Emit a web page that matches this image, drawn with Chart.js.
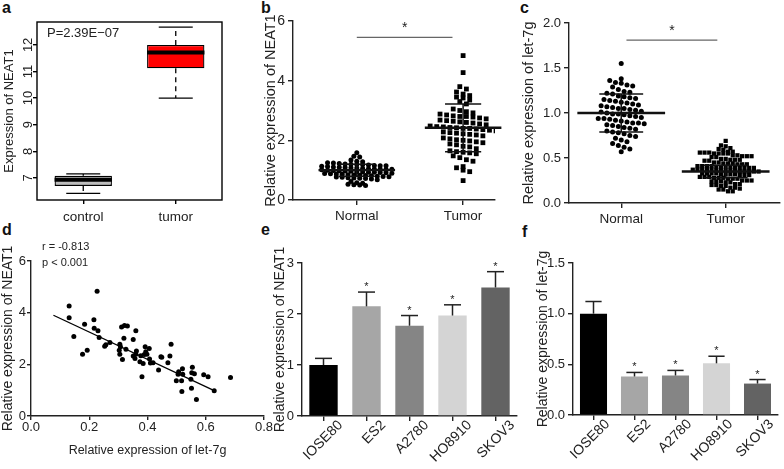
<!DOCTYPE html>
<html>
<head>
<meta charset="utf-8">
<script src="https://cdn.jsdelivr.net/npm/chart.js@4.4.0/dist/chart.umd.min.js"></script>
<style>
  body { margin: 0; width: 784px; height: 469px; background: #fff; position: relative; overflow: hidden;
         font-family: "Liberation Sans", Arial, sans-serif; }
  canvas { position: absolute; }
  .tag { position: absolute; font-weight: bold; font-size: 16px; line-height: 1; color: #111; }
</style>
</head>
<body>
<div class="tag" style="left:2px;top:0px">a</div>
<div class="tag" style="left:261px;top:0px">b</div>
<div class="tag" style="left:520px;top:0px">c</div>
<div class="tag" style="left:2px;top:222px">d</div>
<div class="tag" style="left:261px;top:222px">e</div>
<div class="tag" style="left:522px;top:224px">f</div>

<canvas id="chartA" width="262" height="230" style="left:0;top:0"></canvas>
<canvas id="chartB" width="258" height="230" style="left:262px;top:0"></canvas>
<canvas id="chartC" width="264" height="230" style="left:520px;top:0"></canvas>
<canvas id="chartD" width="280" height="239" style="left:0;top:230px"></canvas>
<canvas id="chartE" width="260" height="239" style="left:262px;top:230px"></canvas>
<canvas id="chartF" width="262" height="239" style="left:522px;top:230px"></canvas>

<script>
// ---- data ----

// a: NEAT1 expression boxplot (control vs tumor)
const groupsA = ["control", "tumor"];
const lowA = [6.42, 10.0];
const q1A = [6.70, 11.12];
const medA = [6.93, 11.71];
const q3A = [7.08, 12.0];
const highA = [7.15, 12.67];
const ticksA = [7, 8, 9, 10, 11, 12];

// b: NEAT1 in normal / tumor tissue
const groupsB = ["Normal", "Tumor"];
const normalB = [
  1.58, 1.47, 1.44, 1.34, 1.30, 1.28,
  1.25, 1.24, 1.22, 1.21, 1.20, 1.19, 1.18, 1.17, 1.16, 1.15, 1.15,
  1.13, 1.12, 1.11, 1.10, 1.09, 1.08, 1.07, 1.06, 1.05, 1.04, 1.04, 1.03, 1.03,
  1.01, 1.00, 0.99, 0.98, 0.97, 0.96, 0.95, 0.94, 0.93, 0.93, 0.92, 0.91, 0.90,
  0.89, 0.88, 0.87, 0.86, 0.85, 0.84, 0.83, 0.82, 0.81, 0.80, 0.79, 0.78,
  0.77, 0.76, 0.75, 0.74, 0.73, 0.72, 0.70, 0.68,
  0.62, 0.58, 0.56, 0.53, 0.51, 0.50, 0.49
];
const tumorB = [
  4.84, 4.27, 3.80, 3.72, 3.62, 3.55, 3.50, 3.45, 3.42, 3.35, 3.30, 3.22,
  3.05, 3.00, 2.96, 2.92,
  2.88, 2.85, 2.82, 2.80, 2.80, 2.78, 2.75, 2.72,
  2.68, 2.66, 2.64, 2.62, 2.60, 2.58, 2.55, 2.52,
  2.48, 2.46, 2.45, 2.43, 2.42, 2.40, 2.40, 2.38, 2.36, 2.34, 2.32,
  2.28, 2.26, 2.24, 2.22, 2.20, 2.18, 2.15,
  2.08, 2.05, 2.02, 2.00, 1.98, 1.95, 1.92,
  1.88, 1.85, 1.80, 1.78, 1.72,
  1.65, 1.62, 1.60, 1.58, 1.55,
  1.48, 1.42, 1.35, 1.30, 1.12, 1.08, 1.00, 0.95, 0.65
];
const meanB = [1.0, 2.42];
const sdB = [0.2, 0.8];

// c: let-7g in normal / tumor tissue
const groupsC = ["Normal", "Tumor"];
const normalC = [
  1.55, 1.38, 1.36, 1.34, 1.33, 1.31, 1.30, 1.29, 1.26, 1.24, 1.23,
  1.22, 1.21, 1.19, 1.18, 1.17, 1.16, 1.15, 1.14, 1.13,
  1.12, 1.11, 1.10, 1.09, 1.08, 1.07, 1.06, 1.05, 1.05, 1.04, 1.03,
  1.02, 1.01, 1.00, 0.99, 0.99, 0.98, 0.97, 0.96, 0.95, 0.94, 0.94, 0.93,
  0.92, 0.91, 0.90, 0.89, 0.89, 0.88, 0.87, 0.86, 0.85, 0.84, 0.83,
  0.82, 0.80, 0.79, 0.78, 0.77, 0.75, 0.74, 0.72, 0.70, 0.68,
  0.66, 0.64, 0.62, 0.60, 0.57
];
const tumorC = [
  0.69, 0.64, 0.63, 0.61, 0.60, 0.59,
  0.57, 0.57, 0.56, 0.56, 0.56, 0.55, 0.55, 0.55, 0.55,
  0.53, 0.53, 0.52, 0.52, 0.52, 0.51, 0.51,
  0.49, 0.49, 0.48, 0.48, 0.48, 0.47, 0.47,
  0.45, 0.45, 0.44, 0.44, 0.44, 0.43, 0.43, 0.43,
  0.41, 0.41, 0.41, 0.41, 0.40, 0.40, 0.40, 0.40, 0.40, 0.39, 0.39, 0.39, 0.39,
  0.37, 0.37, 0.37, 0.37, 0.37, 0.36, 0.36, 0.36, 0.36, 0.36, 0.35, 0.35, 0.35, 0.35, 0.35,
  0.33, 0.33, 0.33, 0.33, 0.32, 0.32, 0.32, 0.32, 0.31, 0.31, 0.31,
  0.29, 0.29, 0.29, 0.28, 0.28, 0.28, 0.27, 0.27, 0.27,
  0.25, 0.25, 0.25, 0.24, 0.24, 0.24, 0.23, 0.23,
  0.21, 0.21, 0.20, 0.20, 0.19, 0.19,
  0.17, 0.17, 0.16, 0.15, 0.15, 0.13, 0.13
];
const meanC = [1.0, 0.35];
const sdC = [0.21, 0.07];

// d: let-7g vs NEAT1 correlation
const let7gD = [0.131, 0.131, 0.147, 0.227, 0.184, 0.216, 0.217, 0.230, 0.234, 0.177, 0.193,
  0.253, 0.257, 0.271, 0.305, 0.307, 0.303, 0.305, 0.314, 0.311, 0.321, 0.331, 0.319, 0.326,
  0.351, 0.360, 0.362, 0.351, 0.357, 0.360, 0.377, 0.374, 0.381, 0.385, 0.389, 0.392, 0.394,
  0.398, 0.406, 0.407, 0.410, 0.419, 0.438, 0.446, 0.449, 0.470, 0.477, 0.481, 0.499, 0.505,
  0.507, 0.517, 0.518, 0.520, 0.521, 0.549, 0.551, 0.554, 0.552, 0.561, 0.568, 0.593, 0.608,
  0.685, 0.629];
const neat1D = [4.26, 3.80, 3.08, 4.83, 3.55, 3.73, 3.40, 3.30, 3.04, 2.39, 2.55,
  2.70, 2.76, 2.85, 2.78, 2.68, 2.55, 2.39, 2.19, 3.45, 3.50, 3.48, 3.01, 2.58,
  2.96, 3.30, 2.52, 2.32, 2.23, 2.39, 2.33, 2.10, 1.52, 2.03, 2.38, 2.68, 2.49,
  2.39, 2.61, 2.21, 2.05, 2.06, 1.78, 2.29, 2.27, 2.06, 2.32, 2.78, 1.36, 1.62,
  1.71, 1.36, 0.95, 1.83, 1.62, 1.42, 1.07, 1.89, 1.67, 1.64, 0.64, 1.60, 1.52,
  1.49, 0.98];
const fitX = [0.077, 0.629];
const fitY = [3.90, 0.98];

// e / f: cell lines
const cellLines = ["IOSE80", "ES2", "A2780", "HO8910", "SKOV3"];
const neatE = [1.0, 2.15, 1.77, 1.97, 2.52];
const neatErrE = [0.13, 0.28, 0.20, 0.21, 0.31];
const let7gF = [1.0, 0.38, 0.39, 0.51, 0.31];
const let7gErrF = [0.12, 0.04, 0.05, 0.07, 0.04];
const starred = [false, true, true, true, true];
const barColors = ["#000000", "#a6a6a6", "#858585", "#d4d4d4", "#636363"];

// ---- helpers ----
const FONT = '"Liberation Sans", Arial, sans-serif';
const INK = "#222";
Chart.defaults.font.family = FONT;
Chart.defaults.color = INK;
Chart.defaults.animation = false;
Chart.defaults.plugins.legend.display = false;
Chart.defaults.plugins.tooltip.enabled = false;

function fixY(w) { return s => { s.width = w; s.paddingTop = 0; s.paddingBottom = 0; }; }
function fixX(h) { return s => { s.height = h; s.paddingLeft = 0; s.paddingRight = 0; }; }

function axis(size, opts) {
  const base = {
    border: { color: INK, width: 1.4 },
    grid: { drawOnChartArea: false, drawTicks: true, tickLength: 5, color: INK, lineWidth: 1.4 },
    ticks: { font: { size: size }, color: INK, padding: 3 }
  };
  return Object.assign({}, base, opts, {
    grid: Object.assign({}, base.grid, opts.grid || {}),
    ticks: Object.assign({}, base.ticks, opts.ticks || {})
  });
}

function yTitle(text, size, pad) {
  return { display: true, text: text, font: { size: size }, color: INK, padding: { top: pad, bottom: 0 } };
}

// spread points of one group into horizontal rows (dot plot layout)
function swarm(values, center, rowSize, spacing) {
  const rows = new Map();
  values.forEach(v => {
    const k = Math.round(v / rowSize);
    if (!rows.has(k)) rows.set(k, []);
    rows.get(k).push(v);
  });
  const pts = [];
  rows.forEach(row => {
    row.forEach((v, i) => pts.push({ x: center + (i - (row.length - 1) / 2) * spacing, y: v }));
  });
  return pts;
}

function line(ctx, x1, y1, x2, y2) {
  ctx.beginPath(); ctx.moveTo(x1, y1); ctx.lineTo(x2, y2); ctx.stroke();
}

// mean +- SD lines and significance bar for dot plots
function dotStats(means, sds, meanHalf, sdHalf, sig) {
  return {
    id: "dotStats",
    afterDatasetsDraw(chart) {
      const { ctx, scales: { x, y } } = chart;
      ctx.save();
      ctx.strokeStyle = "#111";
      means.forEach((m, i) => {
        ctx.lineWidth = 2.4;
        line(ctx, x.getPixelForValue(i - meanHalf), y.getPixelForValue(m), x.getPixelForValue(i + meanHalf), y.getPixelForValue(m));
        ctx.lineWidth = 1.5;
        [m - sds[i], m + sds[i]].forEach(v => {
          line(ctx, x.getPixelForValue(i - sdHalf), y.getPixelForValue(v), x.getPixelForValue(i + sdHalf), y.getPixelForValue(v));
        });
        line(ctx, x.getPixelForValue(i), y.getPixelForValue(m - sds[i]), x.getPixelForValue(i), y.getPixelForValue(m + sds[i]));
      });
      ctx.strokeStyle = "#666";
      ctx.lineWidth = 1.2;
      const ly = y.getPixelForValue(sig.level);
      line(ctx, x.getPixelForValue(sig.from), ly, x.getPixelForValue(sig.to), ly);
      ctx.fillStyle = INK;
      ctx.font = "14px " + FONT;
      ctx.textAlign = "center";
      ctx.fillText("*", x.getPixelForValue((sig.from + sig.to) / 2), ly - 5);
      ctx.restore();
    }
  };
}

function errorBars(errs, stars) {
  return {
    id: "errorBars",
    afterDatasetsDraw(chart) {
      const { ctx, scales: { y } } = chart;
      const meta = chart.getDatasetMeta(0);
      const vals = chart.data.datasets[0].data;
      ctx.save();
      ctx.lineWidth = 1.5;
      ctx.strokeStyle = INK;
      ctx.fillStyle = INK;
      ctx.font = "11px " + FONT;
      ctx.textAlign = "center";
      meta.data.forEach((bar, i) => {
        const top = y.getPixelForValue(vals[i] + errs[i]);
        const half = bar.width * 0.3;
        line(ctx, bar.x, bar.y, bar.x, top);
        line(ctx, bar.x - half, top, bar.x + half, top);
        if (stars[i]) ctx.fillText("*", bar.x, top - 2);
      });
      ctx.restore();
    }
  };
}

// 45 degree category labels, ending a little right of each tick
function slantedLabels(shift, drop) {
  return {
    id: "slantedLabels",
    afterDraw(chart) {
      const { ctx, chartArea: ca, scales: { x } } = chart;
      ctx.save();
      ctx.fillStyle = INK;
      ctx.font = "14px " + FONT;
      ctx.textAlign = "right";
      ctx.textBaseline = "middle";
      chart.data.labels.forEach((name, i) => {
        ctx.save();
        ctx.translate(x.getPixelForValue(i) + shift, ca.bottom + drop);
        ctx.rotate(-Math.PI / 4);
        ctx.fillText(name, 0, 0);
        ctx.restore();
      });
      ctx.restore();
    }
  };
}

// ---- a: boxplot ----
const boxExtras = {
  id: "boxExtras",
  afterDatasetsDraw(chart) {
    const { ctx, chartArea: ca, scales: { x, y } } = chart;
    const meta = chart.getDatasetMeta(0);
    ctx.save();
    ctx.strokeStyle = "#000";
    groupsA.forEach((g, i) => {
      const bar = meta.data[i];
      const cx = bar.x;
      const capHalf = 17;
      ctx.lineWidth = 1.3;
      ctx.setLineDash([5, 4]);
      line(ctx, cx, y.getPixelForValue(q1A[i]), cx, y.getPixelForValue(lowA[i]));
      line(ctx, cx, y.getPixelForValue(q3A[i]), cx, y.getPixelForValue(highA[i]));
      ctx.setLineDash([]);
      line(ctx, cx - capHalf, y.getPixelForValue(lowA[i]), cx + capHalf, y.getPixelForValue(lowA[i]));
      line(ctx, cx - capHalf, y.getPixelForValue(highA[i]), cx + capHalf, y.getPixelForValue(highA[i]));
      ctx.lineWidth = 4;
      line(ctx, cx - bar.width / 2, y.getPixelForValue(medA[i]), cx + bar.width / 2, y.getPixelForValue(medA[i]));
    });
    ctx.lineWidth = 1.4;
    ctx.strokeRect(ca.left, ca.top, ca.width, ca.height);
    // R style vertical tick labels
    ctx.fillStyle = INK;
    ctx.font = "13px " + FONT;
    ctx.textAlign = "center";
    ctx.textBaseline = "middle";
    ticksA.forEach(v => {
      ctx.save();
      ctx.translate(28, y.getPixelForValue(v));
      ctx.rotate(-Math.PI / 2);
      ctx.fillText(String(v), 0, 0);
      ctx.restore();
    });
    ctx.textAlign = "left";
    ctx.fillText("P=2.39E\u221207", 47, 33);
    ctx.restore();
  }
};

new Chart(document.getElementById("chartA"), {
  type: "bar",
  data: {
    labels: groupsA,
    datasets: [{
      data: groupsA.map((g, i) => [q1A[i], q3A[i]]),
      backgroundColor: ["#bdbdbd", "#ff0000"],
      borderColor: "#000",
      borderWidth: 1.3,
      borderSkipped: false,
      barPercentage: 0.62,
      categoryPercentage: 1
    }]
  },
  options: {
    responsive: false, events: [],
    layout: { padding: { left: 0, top: 22, right: 40, bottom: 0 } },
    scales: {
      x: axis(13.5, { border: { display: false }, grid: { offset: false, tickLength: 4, color: "#000" },
        ticks: { padding: 5 }, afterFit: fixX(30) }),
      y: axis(13, { min: 6.17, max: 12.86, border: { display: false }, grid: { tickLength: 4, color: "#000" },
        afterBuildTicks: s => { s.ticks = ticksA.map(v => ({ value: v })); },
        ticks: { color: "rgba(0,0,0,0)" },
        title: yTitle("Expression of NEAT1", 13, 2), afterFit: fixY(37) })
    }
  },
  plugins: [boxExtras]
});

// ---- b ----
new Chart(document.getElementById("chartB"), {
  type: "scatter",
  data: {
    datasets: [
      { data: swarm(normalB, 0, 0.12, 0.055), pointStyle: "circle", pointRadius: 2.5, backgroundColor: "#000", borderWidth: 0 },
      { data: swarm(tumorB, 1, 0.2, 0.062), pointStyle: "rect", pointRadius: 3.4, backgroundColor: "#000", borderWidth: 0 }
    ]
  },
  options: {
    responsive: false, events: [],
    layout: { padding: { left: 0, top: 21, right: 25, bottom: 0 } },
    scales: {
      x: axis(13.5, { type: "linear", min: -0.6, max: 1.3,
        afterBuildTicks: s => { s.ticks = groupsB.map((g, i) => ({ value: i })); },
        ticks: { callback: v => groupsB[v] }, afterFit: fixX(30) }),
      y: axis(14, { min: 0, max: 6, ticks: { stepSize: 2 },
        title: yTitle("Relative expression of NEAT1", 14.5, 0), afterFit: fixY(31) })
    }
  },
  plugins: [dotStats(meanB, sdB, 0.36, 0.17, { level: 5.45, from: 0, to: 0.9 })]
});

// ---- c ----
new Chart(document.getElementById("chartC"), {
  type: "scatter",
  data: {
    datasets: [
      { data: swarm(normalC, 0, 0.07, 0.055), pointStyle: "circle", pointRadius: 2.5, backgroundColor: "#000", borderWidth: 0 },
      { data: swarm(tumorC, 1, 0.045, 0.045), pointStyle: "rect", pointRadius: 3.0, backgroundColor: "#000", borderWidth: 0 }
    ]
  },
  options: {
    responsive: false, events: [],
    layout: { padding: { left: 0, top: 23, right: 1, bottom: 0 } },
    scales: {
      x: axis(13.5, { type: "linear", min: -0.5, max: 1.52,
        afterBuildTicks: s => { s.ticks = groupsC.map((g, i) => ({ value: i })); },
        ticks: { callback: v => groupsC[v] }, afterFit: fixX(27) }),
      y: axis(13, { min: 0, max: 2, ticks: { stepSize: 0.5, callback: v => v.toFixed(1) },
        title: yTitle("Relative expression of let-7g", 14.5, 0), afterFit: fixY(49) })
    }
  },
  plugins: [dotStats(meanC, sdC, 0.42, 0.21, { level: 1.81, from: 0.05, to: 0.92 })]
});

// ---- d ----
const corrText = {
  id: "corrText",
  afterDraw(chart) {
    const ctx = chart.ctx;
    ctx.save();
    ctx.fillStyle = INK;
    ctx.font = "11px " + FONT;
    ctx.textBaseline = "middle";
    ctx.fillText("r = -0.813", 42, 17);
    ctx.fillText("p < 0.001", 42, 33);
    ctx.restore();
  }
};

new Chart(document.getElementById("chartD"), {
  type: "scatter",
  data: {
    datasets: [
      { data: let7gD.map((v, i) => ({ x: v, y: neat1D[i] })), pointRadius: 2.5, backgroundColor: "#000", borderWidth: 0 },
      { data: fitX.map((v, i) => ({ x: v, y: fitY[i] })), showLine: true, pointRadius: 0, borderColor: "#000", borderWidth: 1.3 }
    ]
  },
  options: {
    responsive: false, events: [],
    layout: { padding: { left: 0, top: 31, right: 16, bottom: 0 } },
    scales: {
      x: axis(13, { type: "linear", min: 0, max: 0.8, grid: { tickLength: 4 },
        ticks: { stepSize: 0.2, padding: 0, callback: v => v.toFixed(1) },
        title: { display: true, text: "Relative expression of let-7g", font: { size: 12.5 }, color: INK, padding: { top: 0, bottom: 11 } },
        afterFit: fixX(53) }),
      y: axis(13, { min: 0, max: 6, grid: { tickLength: 4 }, ticks: { stepSize: 2, padding: 1 },
        title: yTitle("Relative expression of NEAT1", 14, 0), afterFit: fixY(31) })
    }
  },
  plugins: [corrText]
});

// ---- e / f ----
function cellBarChart(id, values, errs, yMax, step, title, titlePad, yWidth, padRight, xHeight, labelShift) {
  return new Chart(document.getElementById(id), {
    type: "bar",
    data: {
      labels: cellLines,
      datasets: [{ data: values, backgroundColor: barColors, barPercentage: 0.66, categoryPercentage: 1 }]
    },
    options: {
      responsive: false, events: [],
      layout: { padding: { left: 0, top: 33, right: padRight, bottom: 0 } },
      scales: {
        x: axis(14, { grid: { offset: false }, ticks: { color: "rgba(0,0,0,0)", autoSkip: false },
          afterFit: fixX(xHeight) }),
        y: axis(13, { min: 0, max: yMax, ticks: { stepSize: step, callback: v => step < 1 ? v.toFixed(1) : v },
          title: yTitle(title, 14, titlePad), afterFit: fixY(yWidth) })
      }
    },
    plugins: [errorBars(errs, starred), slantedLabels(labelShift, 7)]
  });
}

cellBarChart("chartE", neatE, neatErrE, 3, 1, "Relative expression of NEAT1", 10, 40, 5, 53, 17);
cellBarChart("chartF", let7gF, let7gErrF, 1.5, 0.5, "Relative expression of let-7g", 13, 51, 6, 54, 14);
</script>
</body>
</html>
